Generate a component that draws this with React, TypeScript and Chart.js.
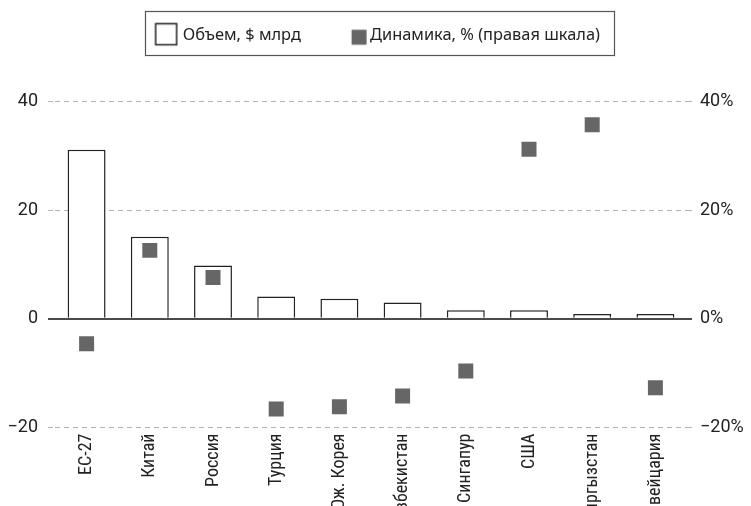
import React, { useEffect, useRef } from 'react';
import { Chart, registerables } from 'chart.js';

Chart.register(...registerables);

// Categories along the x axis
const categories = [
  'ЕС-27',
  'Китай',
  'Россия',
  'Турция',
  'Юж. Корея',
  'Узбекистан',
  'Сингапур',
  'США',
  'Кыргызстан',
  'Швейцария',
];

// Volume, $ bn (left axis, bars)
const volume = [31.1, 15.1, 9.8, 4.1, 3.7, 3.0, 1.6, 1.6, 0.9, 0.9];

// Change, % (right axis, squares)
const growth = [-4.6, 12.6, 7.6, -16.6, -16.2, -14.2, -9.6, 31.2, 35.7, -12.7];

// Axis range shared by both scales
const axisMin = -20;
const axisMax = 40;
const axisStep = 20;

const seriesNames = ['Объем, $ млрд', 'Динамика, % (правая шкала)'];

const INK = '#222222';
const POINT_GRAY = '#666666';
const GRID_GRAY = '#b3b3b3';
const ZERO_LINE = '#4a4a4a';
const CLEAR = 'rgba(0,0,0,0)';

const CATEGORY_FONT = "'Roboto Condensed', 'Roboto', 'Liberation Sans', sans-serif";
const VALUE_FONT = "'Roboto', 'Liberation Sans', sans-serif";
const LEGEND_FONT = "'Noto Sans', 'Open Sans', sans-serif";

const minus = (v: number) => (v < 0 ? '\u2212' + Math.abs(v) : String(v));

// Legend swatches: transparent canvases with the marker placed inside them
function makeSwatch(kind: 'bar' | 'point'): HTMLCanvasElement {
  const c = document.createElement('canvas');
  c.width = 60;
  c.height = 26;
  const g = c.getContext('2d')!;
  if (kind === 'bar') {
    const cx = 30 + 11.7;
    const cy = 12;
    g.fillStyle = '#ffffff';
    g.fillRect(cx - 10.5, cy - 10.5, 21, 21);
    g.strokeStyle = INK;
    g.lineWidth = 1.5;
    g.strokeRect(cx - 10.5, cy - 10.5, 21, 21);
  } else {
    const cx = 30 + 17.2;
    const cy = 15;
    g.fillStyle = POINT_GRAY;
    g.fillRect(cx - 7.5, cy - 7.5, 15, 15);
  }
  return c;
}

const isZero = (ctx: any) => !!(ctx.tick && ctx.tick.value === 0);
const gridColor = (ctx: any) => (isZero(ctx) ? ZERO_LINE : GRID_GRAY);
const gridWidth = (ctx: any) => (isZero(ctx) ? 2 : 1);
const gridDash = (ctx: any) => (isZero(ctx) ? [] : [5, 4]);
// Right scale: only the zero line crosses the plot (drawn above the bars)
const zeroOnlyColor = (ctx: any) => (isZero(ctx) ? ZERO_LINE : CLEAR);

// Plot area edges
const PLOT_LEFT = 55;
const PLOT_RIGHT = 687;
const PLOT_TOP = 101.5;
const PLOT_BOTTOM = 427.5;

const LAYOUT_TOP = 6;
// The legend row is centred over the span [PAD_LEFT, width - PAD_RIGHT]
const PAD_LEFT = -16.6;
const PAD_RIGHT = 0;

export default function App() {
  const canvasRef = useRef<HTMLCanvasElement | null>(null);

  useEffect(() => {
    if (!canvasRef.current) return;
    const swatches = [makeSwatch('bar'), makeSwatch('point')];
    const W = 751;
    const H = 506;

    // Taller legend block so the plot starts lower
    const legendSpacer = {
      id: 'legendSpacer',
      beforeInit(chart: any) {
        const legend = chart.legend;
        if (!legend) return;
        const origFit = legend.fit;
        legend.fit = function () {
          origFit.call(this);
          this.height = PLOT_TOP - LAYOUT_TOP;
        };
      },
    };

    // Thin frame around the legend items
    const legendFrame = {
      id: 'legendFrame',
      afterDraw(chart: any) {
        const boxes = chart.legend && chart.legend.legendHitBoxes;
        if (!boxes || boxes.length < 2) return;
        const first = boxes[0];
        const last = boxes[boxes.length - 1];
        const left = Math.round(first.left + 10.3) + 0.5;
        const right = Math.round(last.left + last.width + 14) + 0.5;
        const top = 11.5;
        const bottom = 55.5;
        const ctx = chart.ctx;
        ctx.save();
        ctx.strokeStyle = '#555555';
        ctx.lineWidth = 1.2;
        ctx.strokeRect(left, top, right - left, bottom - top);
        ctx.restore();
      },
    };

    const chart = new Chart(canvasRef.current, {
      type: 'bar',
      data: {
        labels: categories,
        datasets: [
          {
            type: 'bar',
            label: seriesNames[0],
            data: volume,
            yAxisID: 'y',
            backgroundColor: '#ffffff',
            borderColor: INK,
            borderWidth: 1.5,
            borderSkipped: 'start',
            barPercentage: 0.6,
            categoryPercentage: 1,
            order: 1,
          },
          {
            type: 'line',
            label: seriesNames[1],
            data: growth,
            yAxisID: 'y1',
            showLine: false,
            pointStyle: 'rect',
            pointRadius: 10.6,
            pointHoverRadius: 10.6,
            pointBackgroundColor: POINT_GRAY,
            pointBorderWidth: 0,
            borderColor: POINT_GRAY,
            order: 0,
          } as any,
        ],
      },
      options: {
        animation: false,
        responsive: false,
        devicePixelRatio: 1,
        layout: { padding: { top: LAYOUT_TOP, left: PAD_LEFT, right: PAD_RIGHT, bottom: 0 } },
        plugins: {
          tooltip: { enabled: false },
          legend: {
            position: 'top',
            align: 'center',
            labels: {
              usePointStyle: true,
              pointStyleWidth: 40,
              boxHeight: 16,
              padding: 21,
              color: INK,
              font: { family: LEGEND_FONT, size: 16.4 },
              generateLabels: () =>
                seriesNames.map((name, i) => ({
                  text: name,
                  datasetIndex: i,
                  hidden: false,
                  fillStyle: CLEAR,
                  strokeStyle: CLEAR,
                  lineWidth: 0,
                  pointStyle: swatches[i] as any,
                  fontColor: INK,
                })),
            },
          },
        },
        scales: {
          x: {
            offset: true,
            grid: { display: false, drawTicks: false },
            border: { display: false },
            ticks: {
              autoSkip: false,
              minRotation: 90,
              maxRotation: 90,
              padding: 6,
              color: INK,
              font: { family: CATEGORY_FONT, size: 18 },
            },
            afterFit: (scale: any) => {
              scale.height = H - PLOT_BOTTOM;
            },
          },
          y: {
            position: 'left',
            min: axisMin,
            max: axisMax,
            border: { display: false, dash: gridDash as any },
            grid: {
              color: gridColor as any,
              lineWidth: gridWidth as any,
              tickColor: gridColor as any,
              tickWidth: gridWidth as any,
              tickBorderDash: gridDash as any,
              drawTicks: true,
              tickLength: 7,
            },
            ticks: {
              stepSize: axisStep,
              padding: 10,
              color: INK,
              font: { family: VALUE_FONT, size: 18 },
              callback: (v: any) => minus(Number(v)),
            },
            afterFit: (scale: any) => {
              scale.width = PLOT_LEFT - PAD_LEFT;
            },
          },
          y1: {
            position: 'right',
            min: axisMin,
            max: axisMax,
            z: 1,
            border: { display: false, dash: gridDash as any },
            grid: {
              drawOnChartArea: true,
              color: zeroOnlyColor as any,
              lineWidth: gridWidth as any,
              tickColor: gridColor as any,
              tickWidth: gridWidth as any,
              tickBorderDash: gridDash as any,
              drawTicks: true,
              tickLength: 5,
            },
            ticks: {
              stepSize: axisStep,
              padding: 8,
              color: INK,
              font: { family: VALUE_FONT, size: 18 },
              callback: (v: any) => minus(Number(v)) + '%',
            },
            afterFit: (scale: any) => {
              scale.width = W - PAD_RIGHT - PLOT_RIGHT;
            },
          },
        },
      },
      plugins: [legendSpacer, legendFrame],
    });

    return () => chart.destroy();
  }, []);

  return (
    <div style={{ position: 'absolute', left: 0, top: 0, width: 751, height: 506, background: '#ffffff' }}>
      <canvas ref={canvasRef} width={751} height={506} />
    </div>
  );
}
